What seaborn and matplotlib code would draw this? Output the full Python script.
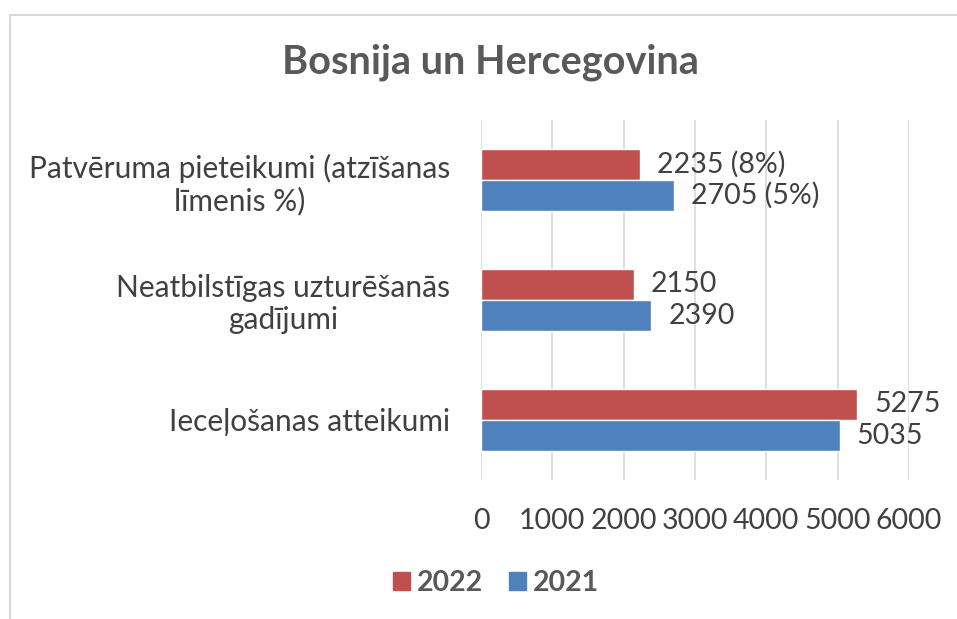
import pandas as pd
import matplotlib.pyplot as plt
import seaborn as sns
from matplotlib.patches import Rectangle

# data
categories = ['Patvēruma pieteikumi (atzīšanas\nlīmenis %)',
              'Neatbilstīgas uzturēšanās\ngadījumi',
              'Ieceļošanas atteikumi']
values_2022 = [2235, 2150, 5275]
values_2021 = [2705, 2390, 5035]
labels_2022 = ['2235 (8%)', '2150', '5275']
labels_2021 = ['2705 (5%)', '2390', '5035']
years = ['2022', '2021']
xticks = [0, 1000, 2000, 3000, 4000, 5000, 6000]

df = pd.DataFrame({
    'category': categories * 2,
    'value': values_2022 + values_2021,
    'year': ['2022'] * 3 + ['2021'] * 3,
})

palette = {'2022': '#c0504d', '2021': '#4f81bd'}
text_col = '#404040'

sns.set_style('white')
plt.rcParams['font.family'] = ['Lato', 'DejaVu Sans']

fig = plt.figure(figsize=(9.57, 6.19), dpi=100)
ax = fig.add_axes([481 / 957, 1 - 480 / 619, 428 / 957, 360 / 619])

sns.barplot(data=df, x='value', y='category', hue='year', hue_order=years,
            palette=palette, orient='h', width=0.52, gap=0, saturation=1,
            ax=ax, legend=False)

# data labels
for cont, labs in zip(ax.containers, [labels_2022, labels_2021]):
    ax.bar_label(cont, labels=labs, padding=12, fontsize=20.5, color=text_col)

ax.set_xlim(0, 6000)
ax.set_ylim(2.5, -0.5)
ax.set_xticks(xticks)
ax.set_xticklabels([str(t) for t in xticks], fontsize=20.5, color=text_col)
ax.tick_params(axis='x', length=0, pad=20)
ax.tick_params(axis='y', length=0, pad=22, labelsize=21.5, labelcolor=text_col)
for t in ax.get_yticklabels():
    t.set_multialignment('center')
    t.set_linespacing(1.15)
ax.set_xlabel('')
ax.set_ylabel('')
ax.grid(axis='x', color='#d9d9d9', linewidth=1.2)
ax.set_axisbelow(True)
for s in ax.spines.values():
    s.set_visible(False)

# title
fig.text(490 / 957, 1 - 62 / 619, 'Bosnija un Hercegovina', ha='center', va='center',
         fontsize=28.5, fontweight='bold', color='#595959')

# legend
handles = [Rectangle((0, 0), 1, 1, color=palette[y]) for y in years]
fig.legend(handles, years, loc='center', bbox_to_anchor=(496 / 957, 1 - 583 / 619),
           ncol=2, frameon=False, handlelength=0.6, handleheight=0.6,
           handletextpad=0.25, columnspacing=0.9,
           prop={'size': 20.5, 'weight': 'bold'}, labelcolor='#595959')

# chart border
fig.patches.append(Rectangle((10 / 957, -0.1), 1.1, 1 - 15 / 619 + 0.1,
                             transform=fig.transFigure, fill=False,
                             edgecolor='#d9d9d9', linewidth=1.5))

fig.savefig('out.png', dpi=100)
